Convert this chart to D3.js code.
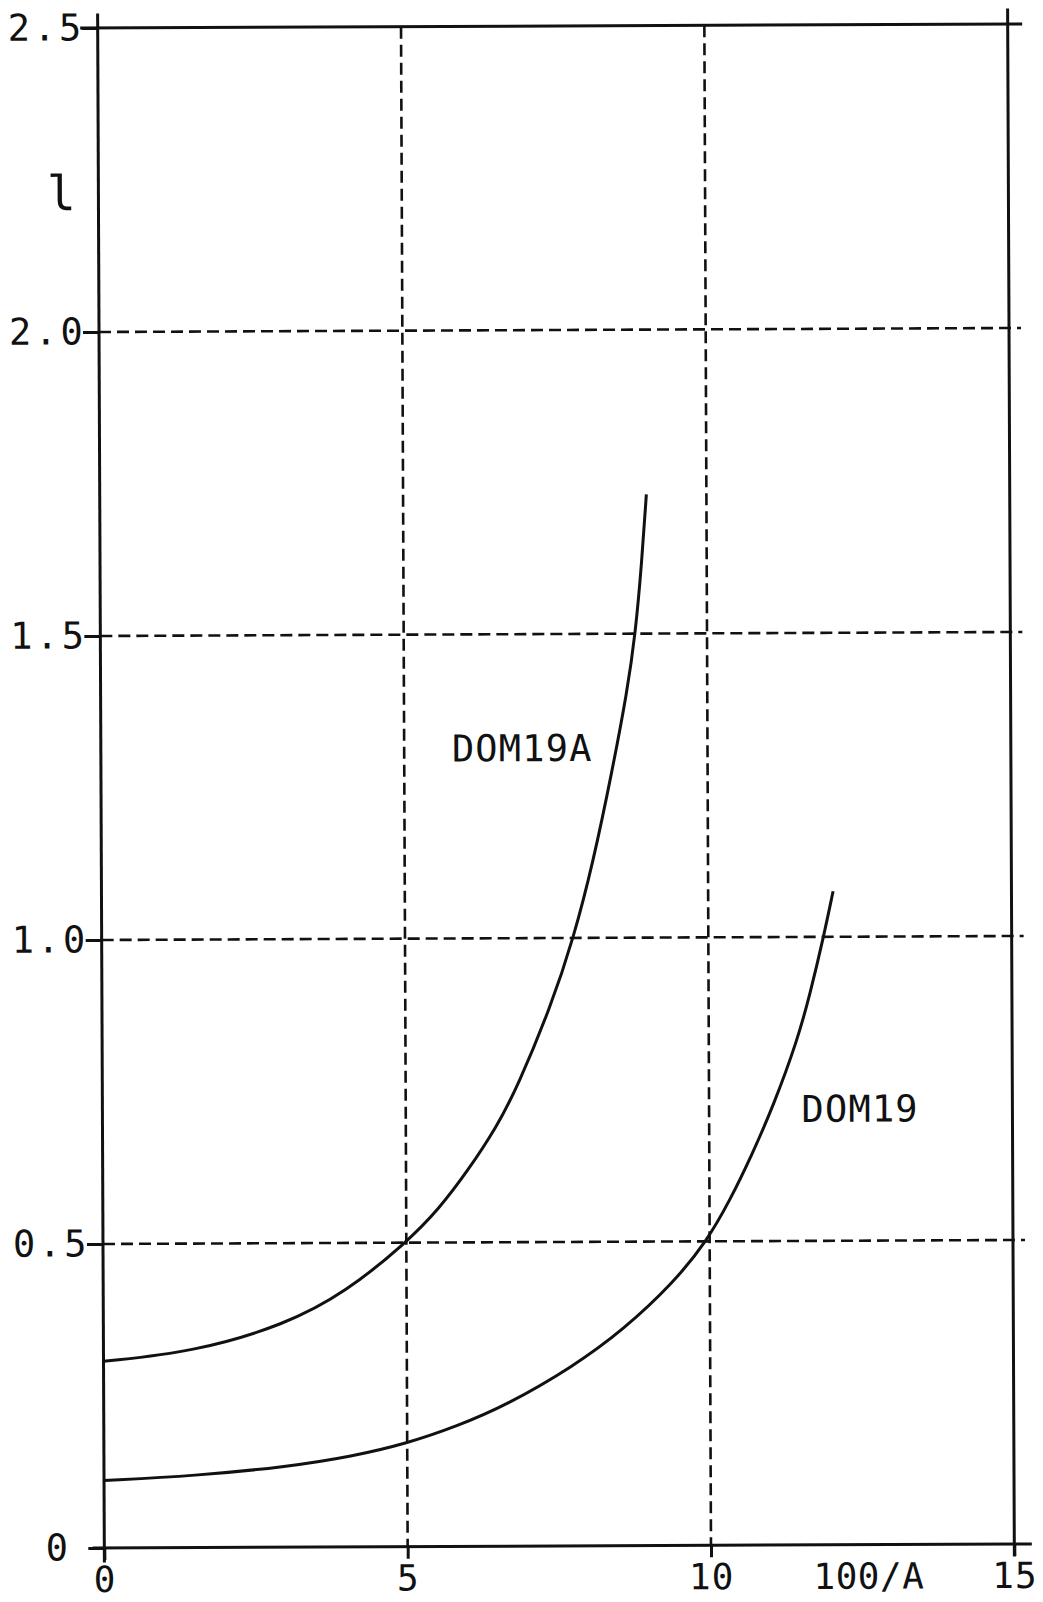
<!DOCTYPE html>
<html>
<head>
<meta charset="utf-8">
<script src="https://cdn.jsdelivr.net/npm/d3@7"></script>
<style>
  html, body { margin: 0; padding: 0; background: #fff; }
  svg { display: block; }
  text { font-family: "DejaVu Sans Mono", "Liberation Mono", monospace; fill: #111; }
</style>
</head>
<body>
<svg id="chart" width="1043" height="1602"></svg>
<script>
// Axis ticks and labels
const xTicks = [0, 5, 10, 15];
const xTickLabels = ["0", "5", "10", "15"];
const yTicks = [0, 0.5, 1.0, 1.5, 2.0, 2.5];
const yTickLabels = ["0", "0.5", "1.0", "1.5", "2.0", "2.5"];
const xTitle = "100/A";
const yTitle = "l";

// Series: l as a function of 100/A
const dom19aX = [0, 1.5, 3.0, 4.0, 5.0, 5.54, 6.02, 6.5, 6.84, 7.39, 7.78, 8.11, 8.42, 8.68, 8.82, 8.93, 9.01];
const dom19aY = [0.307, 0.322, 0.366, 0.419, 0.5, 0.555, 0.618, 0.69, 0.755, 0.885, 1.0, 1.126, 1.271, 1.405, 1.5, 1.618, 1.729];
const dom19X = [0, 1.5, 3.0, 4.1, 5.0, 5.8, 6.64, 7.74, 8.57, 9.40, 9.95, 10.33, 10.69, 11.07, 11.46, 11.67, 11.9, 12.06];
const dom19Y = [0.111, 0.118, 0.132, 0.149, 0.17, 0.197, 0.232, 0.295, 0.355, 0.432, 0.5, 0.566, 0.639, 0.725, 0.83, 0.905, 1.0, 1.075];
const seriesNames = ["DOM19A", "DOM19"];

const ink = "#111";
const svg = d3.select("#chart");
// the whole sheet sits slightly askew
const g = svg.append("g").attr("transform", "rotate(-0.25 556 786)");

const plotLeft = 101, plotRight = 1011, plotTop = 26, plotBottom = 1546;
const x = d3.scaleLinear().domain([0, 15]).range([plotLeft, plotRight]);
const y = d3.scaleLinear().domain([0, 2.5]).range([plotBottom, plotTop]);

// Dashed grid lines
g.append("g").selectAll("line")
  .data(yTicks.filter(v => v > 0 && v < 2.5))
  .join("line")
  .attr("x1", plotLeft).attr("x2", plotRight + 12)
  .attr("y1", d => y(d)).attr("y2", d => y(d))
  .attr("stroke", ink).attr("stroke-width", 2.6).attr("stroke-dasharray", "12,6");

g.append("g").selectAll("line")
  .data(xTicks.filter(v => v > 0 && v < 15))
  .join("line")
  .attr("x1", d => x(d)).attr("x2", d => x(d))
  .attr("y1", plotTop).attr("y2", plotBottom)
  .attr("stroke", ink).attr("stroke-width", 2.6).attr("stroke-dasharray", "12,6");

// Frame
const frame = g.append("g").attr("stroke", ink).attr("stroke-width", 3).attr("stroke-linecap", "square");
frame.append("line").attr("x1", plotLeft).attr("x2", plotLeft).attr("y1", plotTop - 13).attr("y2", plotBottom + 13);
frame.append("line").attr("x1", plotRight).attr("x2", plotRight).attr("y1", plotTop - 14).attr("y2", plotBottom + 11);
frame.append("line").attr("x1", plotLeft - 16).attr("x2", plotRight + 13).attr("y1", plotTop).attr("y2", plotTop);
frame.append("line").attr("x1", plotLeft - 10).attr("x2", plotRight + 16).attr("y1", plotBottom).attr("y2", plotBottom);

// Y axis ticks and labels
const yAxis = d3.axisLeft(y).tickValues(yTicks).tickSize(16).tickPadding(2)
  .tickFormat((d, i) => yTickLabels[i]);
const ya = g.append("g").attr("transform", `translate(${plotLeft},0)`).call(yAxis);
ya.select(".domain").remove();
ya.selectAll(".tick line").attr("stroke", ink).attr("stroke-width", 3);
ya.selectAll(".tick text")
  .attr("font-size", 37).attr("letter-spacing", 3.4).attr("fill", ink)
  .attr("x", d => d === 0 ? -33 : -13);

// X axis ticks and labels
const xAxis = d3.axisBottom(x).tickValues(xTicks).tickSize(12).tickPadding(8)
  .tickFormat((d, i) => xTickLabels[i]);
const xa = g.append("g").attr("transform", `translate(0,${plotBottom})`).call(xAxis);
xa.select(".domain").remove();
xa.selectAll(".tick line").attr("stroke", ink).attr("stroke-width", 3);
xa.selectAll(".tick text")
  .attr("font-size", 36).attr("letter-spacing", 1).attr("fill", ink)
  .attr("y", 18).attr("dy", "0.72em");

g.append("text")
  .attr("x", x(12.6)).attr("y", 1590)
  .attr("text-anchor", "middle").attr("font-size", 36).attr("letter-spacing", 0.5)
  .text(xTitle);

g.append("text")
  .attr("x", 64).attr("y", 208)
  .attr("text-anchor", "middle").attr("font-size", 48)
  .text(yTitle);

// Curves, drawn as smooth splines through the read-off points
const line = d3.line().x(d => x(d[0])).y(d => y(d[1])).curve(d3.curveBasis);
const series = [
  { name: seriesNames[0], pts: d3.zip(dom19aX, dom19aY), lx: 452, ly: 761 },
  { name: seriesNames[1], pts: d3.zip(dom19X, dom19Y), lx: 800, ly: 1123 }
];
g.append("g").selectAll("path")
  .data(series).join("path")
  .attr("d", d => line(d.pts))
  .attr("fill", "none").attr("stroke", ink).attr("stroke-width", 3)
  .attr("stroke-linejoin", "round");

g.append("g").selectAll("text")
  .data(series).join("text")
  .attr("x", d => d.lx).attr("y", d => d.ly)
  .attr("font-size", 37).attr("letter-spacing", 1.2)
  .text(d => d.name);
</script>
</body>
</html>
